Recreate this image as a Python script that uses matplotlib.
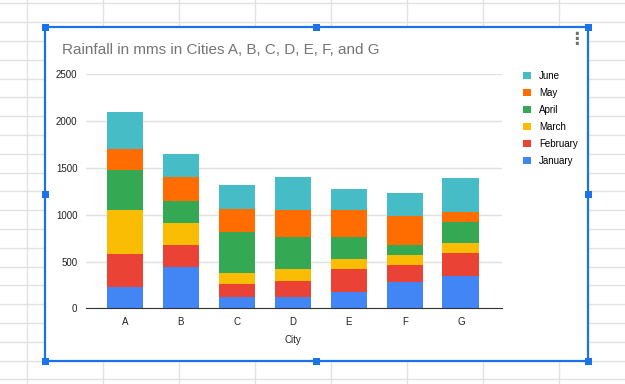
import numpy as np
import matplotlib.pyplot as plt
from matplotlib.patches import Rectangle

cities = ['A', 'B', 'C', 'D', 'E', 'F', 'G']
months = ['January', 'February', 'March', 'April', 'May', 'June']
january = [225, 440, 120, 120, 170, 285, 340]
february = [355, 235, 135, 170, 250, 180, 255]
march = [470, 240, 125, 130, 110, 105, 100]
april = [425, 230, 430, 340, 230, 110, 230]
may = [230, 255, 255, 290, 290, 310, 100]
june = [395, 245, 250, 350, 225, 240, 365]
colors = ['#4285F4', '#EA4335', '#FBBC04', '#34A853', '#FF6D01', '#46BDC6']

W, H = 625, 384
fig = plt.figure(figsize=(W / 100, H / 100), dpi=100)

def fx(x):
    return x / W

def fy(y):
    return 1 - y / H

# spreadsheet background
bg = fig.add_axes([0, 0, 1, 1])
bg.set_xlim(0, W)
bg.set_ylim(H, 0)
bg.axis('off')
for x in np.arange(27, W, 76):
    bg.axvline(x, color='#e2e2e2', lw=1)
for y in np.arange(3.4, H, 18.8):
    bg.axhline(y, color='#e2e2e2', lw=1)
bg.add_patch(Rectangle((45, 27), 543, 334, facecolor='white', edgecolor='#1a73e8', lw=1.6, zorder=3))
for hx, hy in [(45, 27), (316, 27), (588, 27), (45, 194), (588, 194), (45, 361), (316, 361), (588, 361)]:
    bg.add_patch(Rectangle((hx - 3.5, hy - 3.5), 7, 7, facecolor='#1a73e8', edgecolor='none', zorder=4))
bg.text(576, 39, '\u22ee', color='#6f6f6f', fontsize=12, fontweight='bold',
        ha='center', va='center', zorder=5)

fig.text(fx(62), fy(50), 'Rainfall in mms in Cities A, B, C, D, E, F, and G',
         fontsize=11, color='#757575', family='Liberation Sans', va='center', ha='left')

ax = fig.add_axes([fx(85.7), fy(308.3), fx(501.7) - fx(85.7), fy(74.3) - fy(308.3)])
ax.set_zorder(5)
ax.patch.set_alpha(0)
series = [january, february, march, april, may, june]
x = np.arange(len(cities))
bottom = np.zeros(len(cities))
for vals, c, m in zip(series, colors, months):
    ax.bar(x, vals, 0.655, bottom=bottom, color=c, label=m, zorder=3)
    bottom += np.array(vals)

ax.set_xlim(-0.70, 6.73)
ax.set_ylim(0, 2500)
ax.set_yticks(range(0, 2501, 500))
ax.grid(axis='y', color='#e0e0e0', lw=1, zorder=0)
for s in ['top', 'right', 'left']:
    ax.spines[s].set_visible(False)
ax.spines['bottom'].set_color('#333333')
ax.spines['bottom'].set_zorder(4)
ax.tick_params(length=0, labelsize=7, colors='#222222')
ax.set_xticks(x)
ax.set_xticklabels(cities)
for t in ax.get_xticklabels() + ax.get_yticklabels():
    t.set_family('Liberation Sans')
ax.tick_params(axis='y', pad=6)
ax.tick_params(axis='x', pad=6)

fig.text(fx(293), fy(340), 'City', fontsize=7, color='#222222', family='Liberation Sans',
         ha='center', va='center')

h, l = ax.get_legend_handles_labels()
fig.legend(h[::-1], l[::-1], loc='upper left', bbox_to_anchor=(fx(514), fy(62)),
           frameon=False, handlelength=0.8, handleheight=0.8,
           handletextpad=0.9, labelspacing=0.72, prop={'family': 'Liberation Sans', 'size': 7})

fig.savefig('out.png', dpi=100)
